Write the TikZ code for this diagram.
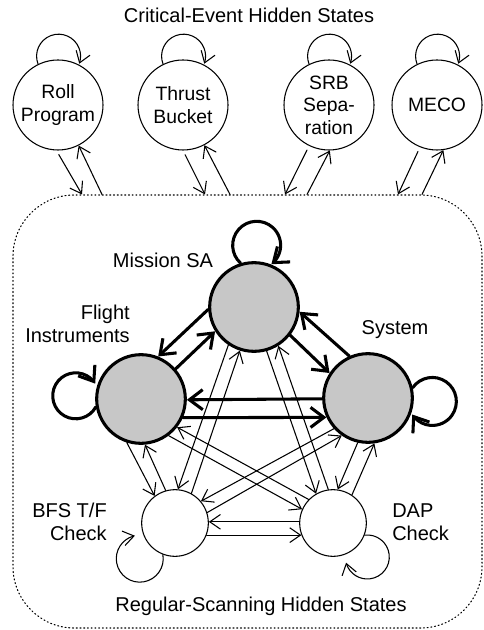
\documentclass[tikz,border=0pt]{standalone}
\usepackage{fontspec}
\setmainfont{Liberation Sans}
\usetikzlibrary{arrows.meta,bending,calc}

\begin{document}
\begin{tikzpicture}[x=0.75pt, y=0.75pt, line cap=round, line join=round,
    font=\fontsize{15}{16.9}\selectfont,
    event/.style={circle, draw, line width=0.8pt, minimum size=67.5pt,
      inner sep=0pt, align=center, font=\fontsize{14.5}{16.9}\selectfont},
    aware/.style={circle, draw, line width=2.3pt, fill=black!22,
      minimum size=66.5pt, inner sep=0pt},
    scan/.style={circle, draw, line width=0.8pt, minimum size=50pt,
      inner sep=0pt},
    link/.style={-{Straight Barb[length=8pt,width=11pt]}, line width=0.8pt},
    boldlink/.style={-{Straight Barb[length=10pt,width=15pt]}, line width=2.3pt},
    lbl/.style={inner sep=0pt, align=center}]

  \useasboundingbox (0,0) rectangle (483,-630);

  %--- Regular-scanning block (dotted frame) -------------------------------
  \node[draw, dotted, line width=0.8pt, rounded corners=46pt,
        minimum width=351.75pt, minimum height=324.75pt] (rs)
        at (247.5,-411.5) {};

  %--- Critical-event states ------------------------------------------------
  \node[event] (RP)   at ( 58,-105) {Roll\\Program};
  \node[event] (TB)   at (183,-105) {Thrust\\Bucket};
  \node[event] (SRB)  at (329,-105) {SRB\\Sepa-\\ration};
  \node[event] (MECO) at (437,-105) {MECO};

  %--- Situation-awareness states (grey) ------------------------------------
  \node[aware] (MSA) at (254,-307) {};
  \node[aware] (FI)  at (141,-399) {};
  \node[aware] (SYS) at (368,-398) {};

  %--- Scanning checks ------------------------------------------------------
  \node[scan] (BFS) at (175,-523) {};
  \node[scan] (DAP) at (333,-523) {};

  %--- Labels ---------------------------------------------------------------
  \node[lbl] (topl) at (249,-15)  {Critical-Event Hidden States};
  \node[lbl] (botl) at (261,-606) {Regular-Scanning Hidden States};
  \node[lbl] (msal) at (163,-260) {Mission SA};
  \node[lbl, align=right, anchor=east] (fil) at (130,-324) {Flight\\Instruments};
  \node[lbl] (sysl) at (395,-330) {System};
  \node[lbl, align=right, anchor=east] (bfsl) at (107,-522) {BFS T/F\\Check};
  \node[lbl, align=left, anchor=west]  (dapl) at (392,-522) {DAP\\Check};

  %--- Critical-event states <-> scanning block -----------------------------
  \foreach \st/\aout/\ain/\xdn/\xup in
      {RP/-92/-63/82/102, TB/-90/-62/205/230,
       SRB/-116/-89/285/307, MECO/-112/-82/398/422}{
    \draw[link, shorten <=3.5pt] (\st.\aout) -- (\xdn,0 |- rs.north);
    \draw[link] (\xup,0 |- rs.north) -- (\st.\ain);
    \draw[link] (\st.116) arc[start angle=201, end angle=-20, radius=16.5pt];
  }

  %--- Self loops -----------------------------------------------------------
  \draw[boldlink] (MSA.107) arc[start angle=228, end angle=-52, radius=18pt];
  \draw[boldlink] (FI.190)  arc[start angle=-29, end angle=-328, radius=17.25pt];
  \draw[boldlink] (SYS.13)  arc[start angle=145, end angle=-147, radius=18pt];
  \draw[link] (BFS.249) arc[start angle=10, end angle=-258, radius=17.6pt];
  \draw[link] (DAP.-21) arc[start angle=97, end angle=-165, radius=16.5pt];

  %--- Links among the grey states ------------------------------------------
  \foreach \a/\b in {MSA.183/FI.68, FI.41/MSA.212, MSA.322/SYS.147,
                     SYS.114/MSA.354, SYS.181/FI.-1, FI.-24/SYS.205}
    \draw[boldlink] (\a) -- (\b);

  %--- Links to and from the scanning checks --------------------------------
  \foreach \a/\b in {FI.252/BFS.127, BFS.106/FI.-85, MSA.236/BFS.85,
                     BFS.61/MSA.252, MSA.286/DAP.120, DAP.98/MSA.302,
                     SYS.257/DAP.82, DAP.56/SYS.278, FI.-53/DAP.156,
                     DAP.136/FI.-38, SYS.222/BFS.40, BFS.18/SYS.235,
                     DAP.178/BFS.2, BFS.-21/DAP.201}
    \draw[link] (\a) -- (\b);

\end{tikzpicture}
\end{document}
